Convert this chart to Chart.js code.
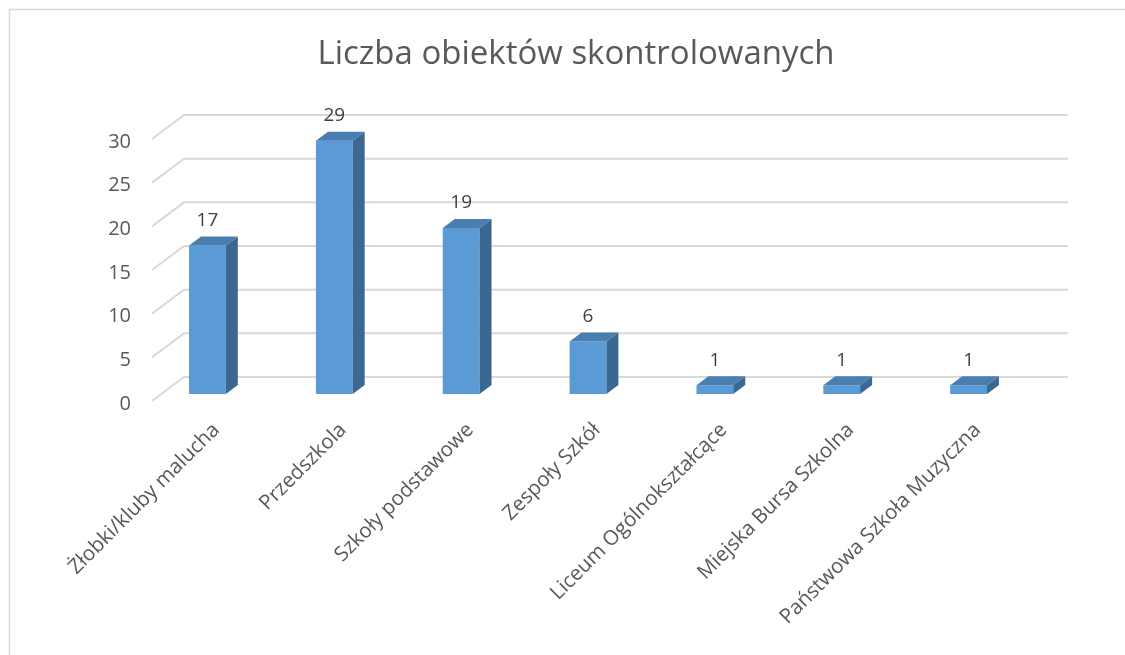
<!DOCTYPE html>
<html>
<head>
<meta charset="utf-8">
<script src="https://cdn.jsdelivr.net/npm/chart.js@4"></script>
<style>
  html, body { margin: 0; padding: 0; background: #fff; }
  #wrap { position: relative; width: 1125px; height: 655px; }
</style>
</head>
<body>
<div id="wrap"><canvas id="obiektyChart" width="1125" height="655"></canvas></div>
<script>
// dane
const kategorie = [
  "Żłobki/kluby malucha",
  "Przedszkola",
  "Szkoły podstawowe",
  "Zespoły Szkół",
  "Liceum Ogólnokształcące",
  "Miejska Bursa Szkolna",
  "Państwowa Szkoła Muzyczna"
];
const liczbaObiektow = [17, 29, 19, 6, 1, 1, 1];
const tytul = "Liczba obiektów skontrolowanych";

const FONT = "'Open Sans'";
const GLEB_X = 12, GLEB_Y = 9; // przesunięcie ścianki bocznej słupka

// ramka, tytuł, siatka "3D" i etykiety wartości
const efekt3d = {
  id: "efekt3d",
  beforeDraw(chart) {
    const ctx = chart.ctx;
    ctx.save();
    ctx.strokeStyle = "#d9d9d9";
    ctx.lineWidth = 1.5;
    ctx.strokeRect(9.5, 9.5, 1200, 800);
    ctx.fillStyle = "#595959";
    ctx.font = "33px " + FONT;
    ctx.textAlign = "center";
    ctx.textBaseline = "middle";
    ctx.fillText(tytul, 576, 55);
    ctx.restore();
  },
  beforeDatasetsDraw(chart) {
    const { ctx, chartArea, scales } = chart;
    const y = scales.y;
    ctx.save();
    ctx.strokeStyle = "#d9d9d9";
    ctx.lineWidth = 2;
    y.ticks.forEach((t) => {
      const py = y.getPixelForValue(t.value);
      ctx.beginPath();
      ctx.moveTo(chartArea.left + 8, py + 7);
      ctx.lineTo(chartArea.left + 40, py - 17);
      ctx.lineTo(chartArea.right + 36, py - 17);
      ctx.stroke();
    });
    ctx.restore();
  },
  afterDatasetsDraw(chart) {
    const ctx = chart.ctx;
    const meta = chart.getDatasetMeta(0);
    ctx.save();
    meta.data.forEach((bar, i) => {
      const w = bar.width;
      const l = bar.x - w / 2, r = bar.x + w / 2;
      const top = bar.y, base = bar.base;
      // bok
      ctx.fillStyle = "#3b6890";
      ctx.beginPath();
      ctx.moveTo(r, top);
      ctx.lineTo(r + GLEB_X, top - GLEB_Y);
      ctx.lineTo(r + GLEB_X, base - GLEB_Y);
      ctx.lineTo(r, base);
      ctx.closePath();
      ctx.fill();
      // góra
      ctx.fillStyle = "#4a7db0";
      ctx.beginPath();
      ctx.moveTo(l, top);
      ctx.lineTo(l + GLEB_X, top - GLEB_Y);
      ctx.lineTo(r + GLEB_X, top - GLEB_Y);
      ctx.lineTo(r, top);
      ctx.closePath();
      ctx.fill();
      // etykieta
      ctx.fillStyle = "#404040";
      ctx.font = "19px " + FONT;
      ctx.textAlign = "center";
      ctx.textBaseline = "middle";
      ctx.fillText(String(liczbaObiektow[i]), bar.x, top - 25);
    });
    ctx.restore();
  }
};

new Chart(document.getElementById("obiektyChart").getContext("2d"), {
  type: "bar",
  data: {
    labels: kategorie,
    datasets: [{
      label: tytul,
      data: liczbaObiektow,
      backgroundColor: "#5b9bd5",
      borderWidth: 0,
      barPercentage: 0.29,
      categoryPercentage: 1
    }]
  },
  options: {
    responsive: false,
    animation: false,
    layout: { padding: { left: 0, right: 93, top: 132, bottom: 0 } },
    plugins: {
      legend: { display: false },
      tooltip: { enabled: false },
      title: { display: false }
    },
    scales: {
      x: {
        grid: { display: false, drawTicks: false },
        border: { display: false },
        afterFit(scale) { scale.height = 261; },
        ticks: {
          color: "#595959",
          font: { family: FONT, size: 20.5 },
          maxRotation: 45,
          minRotation: 45,
          padding: 24,
          labelOffset: 9,
          autoSkip: false
        }
      },
      y: {
        min: 0,
        max: 30,
        grid: { display: false, drawTicks: false },
        border: { display: false },
        afterFit(scale) { scale.width = 144; },
        ticks: {
          stepSize: 5,
          color: "#595959",
          font: { family: FONT, size: 20 },
          padding: 13,
          labelOffset: 10
        }
      }
    }
  },
  plugins: [efekt3d]
});
</script>
</body>
</html>
